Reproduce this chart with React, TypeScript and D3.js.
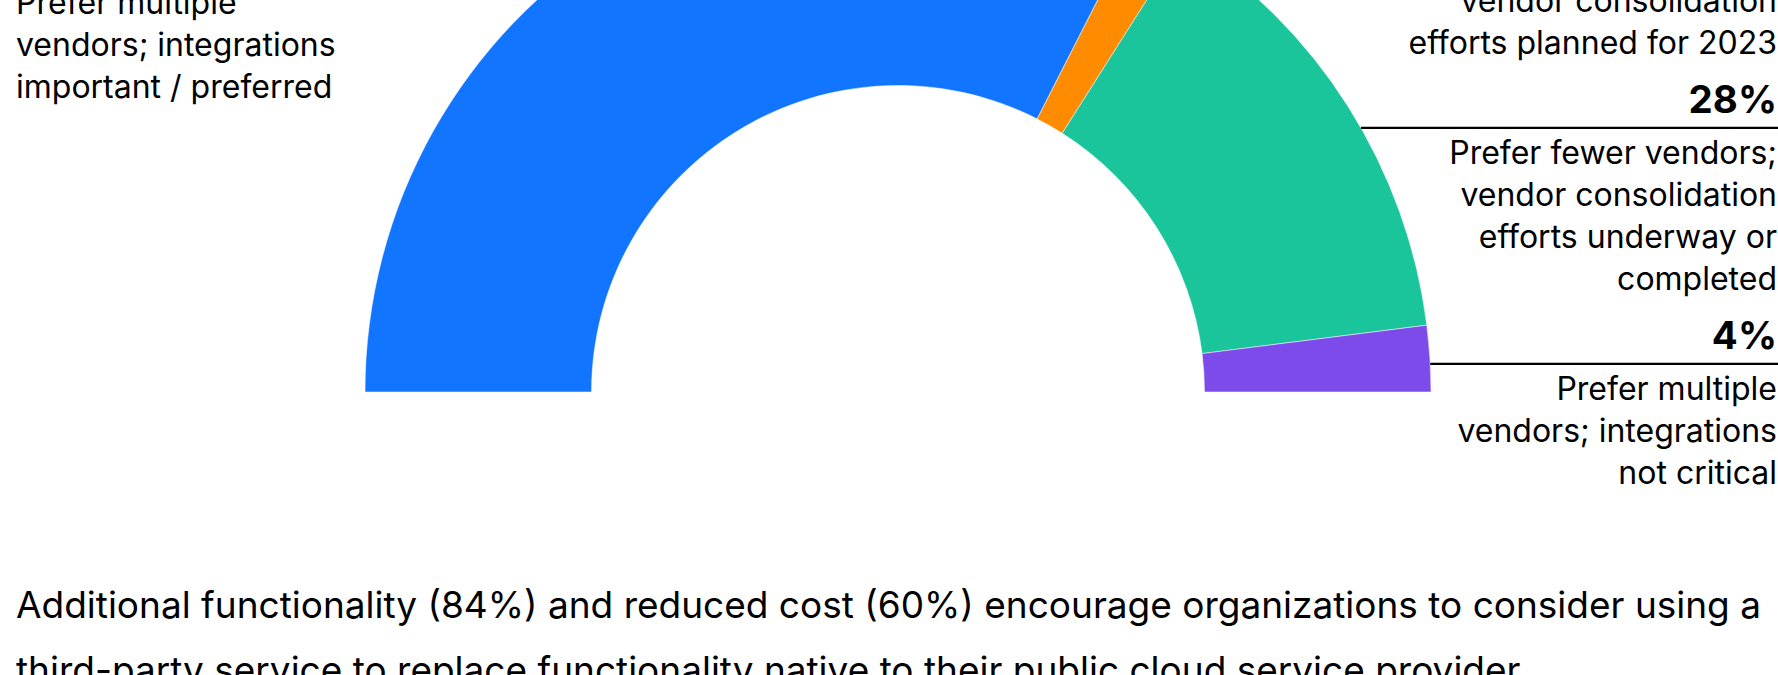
import React from 'react';
import * as d3 from 'd3';

// ---- data ----
const categories = [
  'Prefer multiple vendors; integrations important / preferred',
  'Prefer fewer vendors; vendor consolidation efforts planned for 2023',
  'Prefer fewer vendors; vendor consolidation efforts underway or completed',
  'Prefer multiple vendors; integrations not critical',
];
const values = [65, 3, 28, 4];
const pctLabels = ['65%', '3%', '28%', '4%'];
const colors = ['#1175ff', '#ff8c00', '#1bc59b', '#7c4be9'];
const labelLines = [
  ['Prefer multiple', 'vendors; integrations', 'important / preferred'],
  ['Prefer fewer vendors;', 'vendor consolidation', 'efforts planned for 2023'],
  ['Prefer fewer vendors;', 'vendor consolidation', 'efforts underway or', 'completed'],
  ['Prefer multiple', 'vendors; integrations', 'not critical'],
];
const labelSide = ['left', 'right', 'right', 'right'];
const caption = [
  'Additional functionality (84%) and reduced cost (60%) encourage organizations to consider using a',
  'third-party service to replace functionality native to their public cloud service provider',
];

// ---- layout ----
const W = 1778;
const H = 675;
const cx = 898;
const cy = 392;
const R = 533;
const r = 306.5;
const FONT = 'Inter, "Noto Sans", sans-serif';
const labelSize = 32;
const pctSize = 38.5;
const captionSize = 37;
const lineStep = 42;
const pctToRule = 14.5;
const ruleToText = 36;
const blockGap = 59.5;
const rightX = 1777;
const leftX = 16;
const leftFirstBaseline = 13.5;
const rightAnchorPct = 113.3; // pct baseline of the 2nd right block

export default function App() {
  const pie = d3
    .pie<number>()
    .sort(null)
    .startAngle(-Math.PI / 2)
    .endAngle(Math.PI / 2)(values);
  const arc = d3.arc<d3.PieArcDatum<number>>().innerRadius(r).outerRadius(R);

  const rightIdx = labelSide.map((s, i) => (s === 'right' ? i : -1)).filter((i) => i >= 0);
  const blockH = (i: number) => pctToRule + ruleToText + lineStep * (labelLines[i].length - 1) + blockGap;
  const pctY: number[] = [];
  let y = rightAnchorPct - blockH(rightIdx[0]);
  rightIdx.forEach((i) => {
    pctY[i] = y;
    y += blockH(i);
  });
  pctY[0] = leftFirstBaseline - ruleToText - pctToRule;

  const edgeX = (yy: number, side: string) => {
    const dy = cy - yy;
    const dx = Math.sqrt(Math.max(0, R * R - dy * dy));
    return side === 'right' ? cx + dx : cx - dx;
  };

  return (
    <svg
      width={W}
      height={H}
      style={{ position: 'absolute', left: 0, top: 0, background: '#fff' }}
      fontFamily={FONT}
    >
      <g transform={`translate(${cx},${cy})`}>
        {pie.map((d, i) => (
          <path key={categories[i]} d={arc(d) || ''} fill={colors[i]} stroke="#fff" strokeWidth={0.5} />
        ))}
      </g>
      {values.map((_, i) => {
        const side = labelSide[i];
        const py = pctY[i];
        const ry = py + pctToRule;
        const anchor = side === 'right' ? 'end' : 'start';
        const tx = side === 'right' ? rightX : leftX;
        const x1 = side === 'right' ? edgeX(ry, side) : leftX;
        const x2 = side === 'right' ? W : edgeX(ry, side);
        return (
          <g key={'lbl' + i}>
            <text x={tx} y={py} textAnchor={anchor} fontSize={pctSize} fontWeight={700} fill="#000">
              {pctLabels[i]}
            </text>
            <line x1={x1} x2={x2} y1={ry} y2={ry} stroke="#000" strokeWidth={2.2} />
            {labelLines[i].map((t, k) => (
              <text
                key={k}
                x={tx}
                y={ry + ruleToText + k * lineStep}
                textAnchor={anchor}
                fontSize={labelSize}
                fill="#000"
              >
                {t}
              </text>
            ))}
          </g>
        );
      })}
      {caption.map((t, k) => (
        <text key={'cap' + k} x={16} y={618.3 + k * 65} fontSize={captionSize} fill="#000">
          {t}
        </text>
      ))}
    </svg>
  );
}
